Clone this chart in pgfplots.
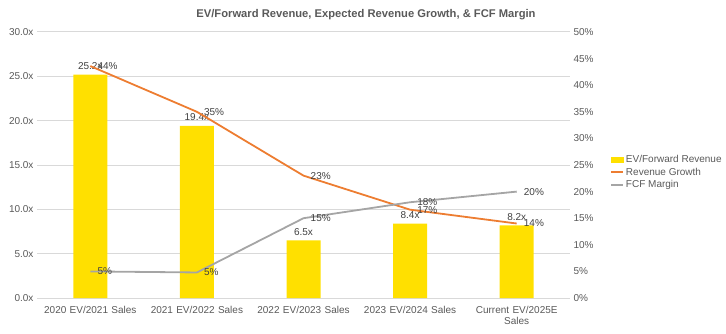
\documentclass[border=0pt]{standalone}
\usepackage{pgfplots}
\pgfplotsset{compat=1.18}
\usepackage{fontspec}
\setmainfont{Liberation Sans}
\definecolor{barY}{HTML}{FFE000}
\definecolor{orn}{HTML}{ED7D31}
\definecolor{gry}{HTML}{A5A5A5}
\definecolor{gridc}{HTML}{D9D9D9}
\definecolor{txt}{HTML}{595959}
\definecolor{lbl}{HTML}{404040}
\newcommand{\ff}{\fontsize{10bp}{11bp}\selectfont}
\begin{document}
\begin{tikzpicture}[x=1bp,y=1bp]
\path[use as bounding box] (0,0) rectangle (726,333);
\node[font=\fontsize{11.2bp}{12bp}\selectfont\bfseries, text=txt] at (366,318) {EV/Forward Revenue, Expected Revenue Growth, \& FCF Margin};
\begin{axis}[
  at={(37bp,35bp)}, anchor=south west, scale only axis,
  width=533bp, height=266bp,
  xmin=-0.5, xmax=4.5, ymin=0, ymax=30,
  xtick={0,1,2,3,4},
  xticklabels={2020 EV/2021 Sales, 2021 EV/2022 Sales, 2022 EV/2023 Sales, 2023 EV/2024 Sales, Current EV/2025E\\Sales},
  xticklabel style={align=center, text width=110bp, font=\ff, text=txt, yshift=-5bp},
  ytick={0,5,...,30},
  yticklabel={\pgfmathprintnumber[fixed,fixed zerofill,precision=1]{\tick}x},
  yticklabel style={font=\ff, text=txt},
  /pgf/number format/assume math mode=true,
  axis x line*=bottom, axis y line*=left,
  y axis line style={draw=none},
  x axis line style={draw=gridc, line width=1bp, -},
  major tick length=0,
  ymajorgrids, grid style={draw=gridc, line width=1bp},
  ybar, bar width=34bp,
  nodes near coords={\pgfmathprintnumber[fixed,fixed zerofill,precision=1]{\pgfplotspointmeta}x},
  nodes near coords style={font=\ff, text=lbl, anchor=south, yshift=1.5bp},
  clip=false,
]
\addplot[fill=barY, draw=none] coordinates {(0,25.2) (1,19.4) (2,6.5) (3,8.4) (4,8.2)};
\end{axis}
\begin{axis}[
  at={(37bp,35bp)}, anchor=south west, scale only axis,
  width=533bp, height=266bp,
  xmin=-0.5, xmax=4.5, ymin=0, ymax=50,
  axis x line=none, axis y line*=right,
  y axis line style={draw=none},
  major tick length=0,
  ytick={0,5,...,50},
  yticklabel={\pgfmathprintnumber{\tick}\%},
  yticklabel style={font=\ff, text=txt},
  /pgf/number format/assume math mode=true,
  nodes near coords={\pgfmathprintnumber[fixed,precision=0]{\pgfplotspointmeta}\%},
  nodes near coords style={font=\ff, text=lbl, anchor=west, xshift=3bp},
  clip=false,
  legend style={at={(1.075,0.545)}, anchor=north west, draw=none, fill=none, font=\ff, text=txt, row sep=0bp, inner sep=0bp},
  legend cell align=left,
]
\addlegendimage{legend image code/.code={\fill[barY] (0bp,-2.5bp) rectangle (12bp,2.5bp);}}
\addlegendentry{EV/Forward Revenue}
\addplot[orn, line width=1.8bp, mark=none, legend image code/.code={\draw[orn, line width=1.8bp] (0bp,0bp) -- (12bp,0bp);}] coordinates {(0,43.6) (1,35) (2,23) (3,16.6) (4,14)};
\addlegendentry{Revenue Growth}
\addplot[gry, line width=1.8bp, mark=none, legend image code/.code={\draw[gry, line width=1.8bp] (0bp,0bp) -- (12bp,0bp);}] coordinates {(0,5) (1,4.8) (2,15) (3,18) (4,20)};
\addlegendentry{FCF Margin}
\end{axis}
\end{tikzpicture}
\end{document}
